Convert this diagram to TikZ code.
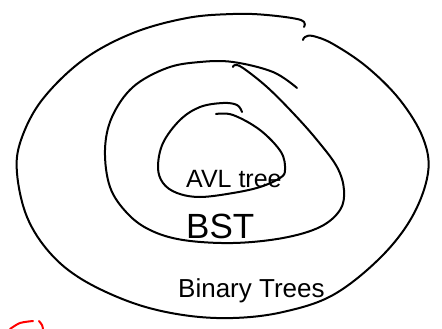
\documentclass[tikz,border=0pt]{standalone}
\usepackage{fontspec}
\setmainfont{Liberation Sans}
\begin{document}
\begin{tikzpicture}[x=1pt,y=-1pt,
  pen/.style={line width=2pt,line cap=round,line join=round},
  label/.style={anchor=base west,inner sep=0pt}]
\useasboundingbox (0,0) rectangle (442,329);
% outer curve (Binary Trees)
\draw[pen] plot[smooth,tension=0.6] coordinates {
 (304,27) (301,20) (267,15) (233,14) (187,18) (133,33) (83,60) (42,100)
 (21,140) (17,173) (27,217) (50,253) (83,280) (133,303) (183,315) (233,318)
 (283,312) (333,295) (380,258) (412,217) (428,173) (423,138) (400,100)
 (367,67) (333,44) (313,36) (305,37) (303,40)};
% middle curve (BST)
\draw[pen] plot[smooth,tension=0.6] coordinates {
 (297,88) (273,72) (233,62) (200,62) (167,68) (133,87) (112,117) (105,150)
 (110,187) (127,213) (150,230) (183,240) (233,243) (283,238) (320,227)
 (340,210) (344,190) (337,167) (317,140) (293,113) (267,87) (243,68)
 (235,65) (233,67)};
% inner curve (AVL tree)
\draw[pen] plot[smooth,tension=0.6] coordinates {
 (216,114) (233,115) (260,130) (281,152) (285,170) (280,178) (260,187)
 (233,193) (200,197) (177,193) (163,183) (158,167) (163,143) (180,120)
 (200,107) (223,103) (237,105) (242,112)};
% red mark
\draw[pen,red] plot[smooth] coordinates {(10,329) (20,323) (33,321)};
\draw[pen,red] plot[smooth] coordinates {(39,321) (42,325) (43,329)};
% labels
\node[label,font=\fontsize{25}{25}\selectfont] (avl) at (186,187) {AVL tree};
\node[label,font=\fontsize{35}{35}\selectfont] (bst) at (186,238) {BST};
\node[label,font=\fontsize{26}{26}\selectfont] (bt) at (178,297) {Binary Trees};
\end{tikzpicture}
\end{document}
